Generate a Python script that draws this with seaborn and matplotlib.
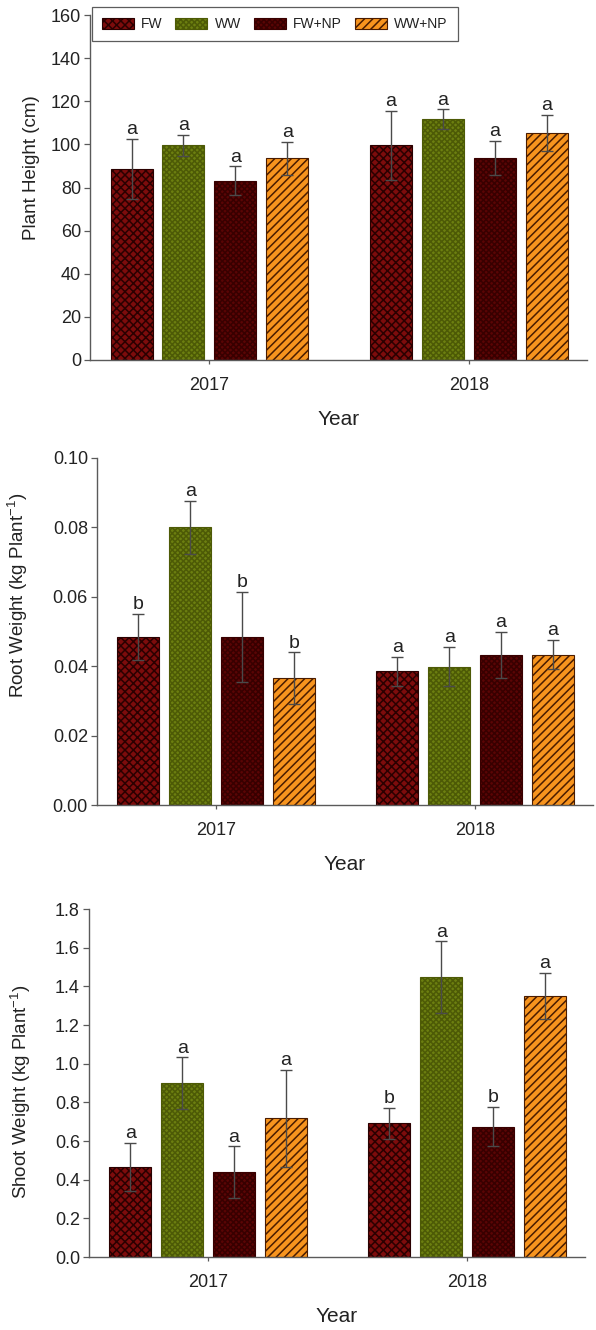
import matplotlib
matplotlib.use("Agg")
import matplotlib.pyplot as plt
import matplotlib.patches as mpatches
from matplotlib.ticker import MultipleLocator, FormatStrFormatter
import pandas as pd
import seaborn as sns

# ---------------------------------------------------------------- data
years = ["2017", "2018"]
treatments = ["FW", "WW", "FW+NP", "WW+NP"]

# Plant height (cm): means, standard errors and significance letters
height_2017 = [88.5, 99.5, 83.2, 93.5]
height_2018 = [99.5, 111.8, 93.6, 105.3]
height_err_2017 = [14.0, 5.0, 6.6, 7.8]
height_err_2018 = [16.0, 4.5, 8.0, 8.5]
height_sig_2017 = ["a", "a", "a", "a"]
height_sig_2018 = ["a", "a", "a", "a"]

# Root weight (kg plant-1)
root_2017 = [0.0484, 0.0800, 0.0484, 0.0366]
root_2018 = [0.0385, 0.0399, 0.0433, 0.0433]
root_err_2017 = [0.0067, 0.0077, 0.0130, 0.0074]
root_err_2018 = [0.0042, 0.0057, 0.0067, 0.0042]
root_sig_2017 = ["b", "a", "b", "b"]
root_sig_2018 = ["a", "a", "a", "a"]

# Shoot weight (kg plant-1)
shoot_2017 = [0.467, 0.899, 0.438, 0.718]
shoot_2018 = [0.692, 1.448, 0.675, 1.351]
shoot_err_2017 = [0.125, 0.134, 0.135, 0.250]
shoot_err_2018 = [0.080, 0.185, 0.100, 0.120]
shoot_sig_2017 = ["a", "a", "a", "a"]
shoot_sig_2018 = ["b", "a", "b", "a"]

# ---------------------------------------------------------------- style
fill_colors = ["#7d0c0c", "#6c7f10", "#5a0505", "#f7941e"]
edge_colors = ["#2a0000", "#4d5a06", "#380000", "#4a1c00"]
hatches = ["xxxx", "xxxxxx", "xxxxxx", "////"]

sns.set_style("ticks")
plt.rcParams["font.family"] = ["Liberation Sans", "DejaVu Sans"]
plt.rcParams["mathtext.default"] = "regular"
plt.rcParams["hatch.linewidth"] = 1.1
plt.rcParams["axes.edgecolor"] = "#5a5a5a"
plt.rcParams["xtick.color"] = "#5a5a5a"
plt.rcParams["ytick.color"] = "#5a5a5a"
plt.rcParams["xtick.labelcolor"] = "#222222"
plt.rcParams["ytick.labelcolor"] = "#222222"


def make_frame(v17, v18, e17, e18, s17, s18):
    rows = []
    for yr, vals, errs, sigs in ((years[0], v17, e17, s17), (years[1], v18, e18, s18)):
        for t, v, e, s in zip(treatments, vals, errs, sigs):
            rows.append({"Year": yr, "Treatment": t, "value": v, "err": e, "sig": s})
    return pd.DataFrame(rows)


def draw_panel(ax, df, ymax, step, fmt, ylabel, ylabel_xy):
    sns.barplot(data=df, x="Year", y="value", hue="Treatment", order=years,
                hue_order=treatments, palette=fill_colors, saturation=1,
                errorbar=None, width=0.8, gap=0.19, linewidth=0.8,
                legend=False, ax=ax)

    # identify each bar by its year slot and its rank inside that slot
    bars = [b for c in ax.containers for b in c]
    for yi, yr in enumerate(years):
        slot = sorted([b for b in bars if round(b.get_x() + b.get_width() / 2) == yi],
                      key=lambda b: b.get_x())
        for ti, bar in enumerate(slot):
            row = df[(df.Year == yr) & (df.Treatment == treatments[ti])].iloc[0]
            bar.set_facecolor(fill_colors[ti])
            bar.set_edgecolor(edge_colors[ti])
            bar.set_hatch(hatches[ti])
            bar.set_linewidth(0.8)
            xc = bar.get_x() + bar.get_width() / 2
            top = bar.get_height()
            ax.errorbar(xc, top, yerr=row.err, fmt="none", ecolor="#4a4a4a",
                        elinewidth=1.0, capsize=4.5, capthick=1.0, zorder=4)
            ax.annotate(row.sig, (xc, top + row.err), xytext=(0, 0.5),
                        textcoords="offset points", ha="center", va="bottom",
                        fontsize=14, color="#222222")

    ax.set_ylim(0, ymax)
    ax.set_xlim(-0.46, 1.455)
    ax.yaxis.set_major_locator(MultipleLocator(step))
    ax.yaxis.set_major_formatter(FormatStrFormatter(fmt))
    ax.tick_params(axis="y", length=4, width=0.9, pad=2.5, labelsize=13)
    ax.tick_params(axis="x", length=3, width=0.9, pad=9, labelsize=13)
    ax.set_ylabel(ylabel, fontsize=13.5, color="#222222")
    ax.yaxis.set_label_coords(*ylabel_xy)
    ax.set_xlabel("Year", fontsize=15, color="#222222", labelpad=12)
    for sp in ("left", "bottom"):
        ax.spines[sp].set_linewidth(1.0)
    sns.despine(ax=ax)


fig = plt.figure(figsize=(5.96, 13.30), dpi=100)
W, H = 596.0, 1330.0

ax1 = fig.add_axes([90 / W, 1 - 360 / H, 497 / W, 345 / H])
ax2 = fig.add_axes([97 / W, 1 - 805 / H, 496 / W, 347 / H])
ax3 = fig.add_axes([89 / W, 1 - 1257 / H, 496 / W, 348 / H])

draw_panel(ax1, make_frame(height_2017, height_2018, height_err_2017,
                           height_err_2018, height_sig_2017, height_sig_2018),
           160, 20, "%d", "Plant Height (cm)", (-0.10, 0.557))
draw_panel(ax2, make_frame(root_2017, root_2018, root_err_2017,
                           root_err_2018, root_sig_2017, root_sig_2018),
           0.10, 0.02, "%.2f", "Root Weight (kg Plant$^{-1}$)", (-0.135, 0.605))
draw_panel(ax3, make_frame(shoot_2017, shoot_2018, shoot_err_2017,
                           shoot_err_2018, shoot_sig_2017, shoot_sig_2018),
           1.8, 0.2, "%.1f", "Shoot Weight (kg Plant$^{-1}$)", (-0.113, 0.474))

handles = [mpatches.Patch(facecolor=f, edgecolor=e, hatch=h, linewidth=0.8, label=t)
           for f, e, h, t in zip(fill_colors, edge_colors, hatches, treatments)]
leg = ax1.legend(handles=handles, ncol=4, loc="upper left",
                 bbox_to_anchor=(0.004, 1.022), fontsize=10, frameon=True,
                 fancybox=False, handlelength=2.3, handleheight=0.85,
                 handletextpad=0.55, columnspacing=0.9, borderpad=0.7,
                 borderaxespad=0)
leg.get_frame().set_edgecolor("#333333")
leg.get_frame().set_linewidth(0.9)
for txt in leg.get_texts():
    txt.set_color("#222222")

fig.savefig("out.png", dpi=100, facecolor="white")
